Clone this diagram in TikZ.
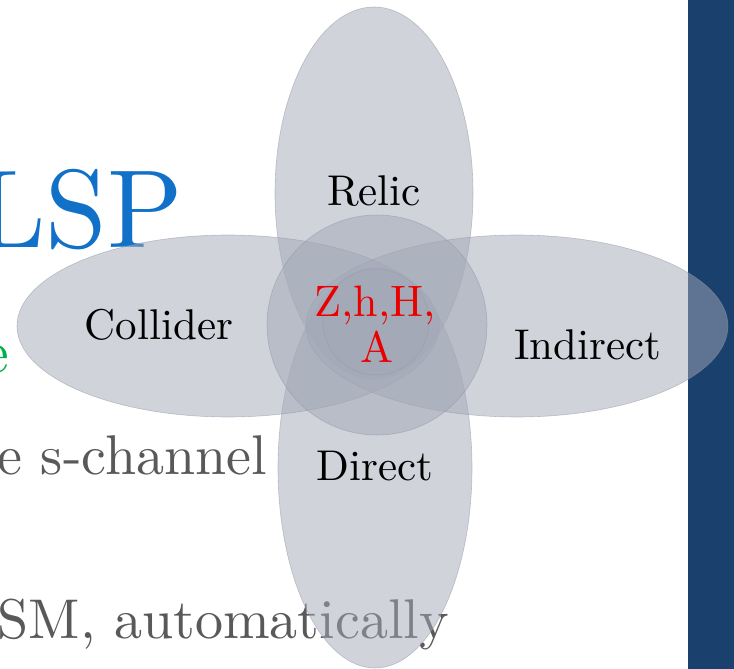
\documentclass[tikz,border=0pt]{standalone}
\usepackage{graphicx}
\definecolor{lspblue}{RGB}{17,112,200}
\definecolor{bodygray}{RGB}{89,89,89}
\definecolor{bandblue}{RGB}{26,64,110}
\definecolor{vennfill}{RGB}{163,169,183}
\definecolor{venndraw}{RGB}{140,146,160}
\definecolor{lgreen}{RGB}{0,176,80}
\definecolor{centerred}{RGB}{235,0,0}
% text set at the 10pt design size, then scaled up
\newcommand\cmtext[2]{\scalebox{#1}{\fontsize{10}{12}\selectfont #2}}
\begin{document}
\begin{tikzpicture}[x=1pt,y=-1pt,
  venn/.style={fill=vennfill, fill opacity=0.5, draw=venndraw, draw opacity=0.5, line width=0.6pt},
  lbl/.style={text=black, inner sep=0pt, anchor=base},
  bodytext/.style={text=bodygray, inner sep=0pt, anchor=base east}]
\useasboundingbox (0,0) rectangle (734,669);
\clip (0,0) rectangle (734,669);
\fill[white] (0,0) rectangle (734,669);
% slide text behind the diagram
\node[anchor=base east, text=lspblue, inner sep=0pt] (lsp) at (183,247) {\cmtext{11.1}{LSP}};
\node[anchor=base east, text=lgreen, inner sep=0pt] (green) at (9,372) {\cmtext{6}{e}};
\node[bodytext] (schannel) at (267,474) {\cmtext{5.6}{e s-channel}};
\node[bodytext] (auto) at (449,638) {\cmtext{5.6}{SM, automatically}};
% dark band on the right
\fill[bandblue] (688,0) rectangle (734,669);
% Venn shapes
\draw[venn] (374,193) ellipse [x radius=99pt, y radius=186pt];
\draw[venn] (375,468) ellipse [x radius=97pt, y radius=200pt];
\draw[venn] (228,326) ellipse [x radius=211pt, y radius=91pt];
\draw[venn] (517,326) ellipse [x radius=211pt, y radius=91pt];
\draw[venn] (377,325) circle [radius=110pt];
\draw[venn, fill opacity=0.15, draw opacity=0.35] (376,322) circle [radius=53pt];
% labels
\node[lbl] (relic) at (374,205) {\cmtext{4.3}{Relic}};
\node[lbl] (collider) at (159,339) {\cmtext{4.3}{Collider}};
\node[lbl] (indirect) at (588,359) {\cmtext{4.3}{Indirect}};
\node[lbl] (direct) at (375,480) {\cmtext{4.3}{Direct}};
\node[lbl, text=centerred] (zhh) at (375,316) {\cmtext{4.4}{Z,h,H,}};
\node[lbl, text=centerred] (a) at (377,362) {\cmtext{4.4}{A}};
\end{tikzpicture}
\end{document}
